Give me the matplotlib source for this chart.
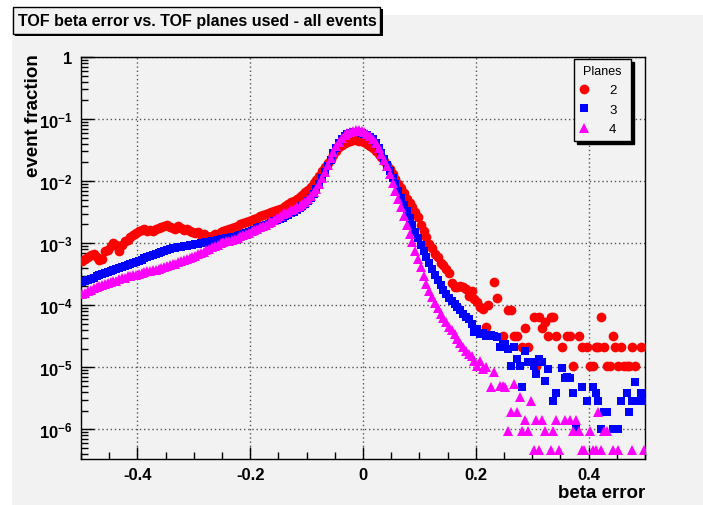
import numpy as np
import matplotlib
matplotlib.use("Agg")
import matplotlib.pyplot as plt
from matplotlib import font_manager
from matplotlib.patches import Rectangle
from matplotlib.ticker import FixedLocator, LogLocator, MultipleLocator, NullFormatter, FixedFormatter

plt.rcParams['font.family'] = ['Liberation Sans', 'DejaVu Sans']
plt.rcParams['mathtext.fontset'] = 'custom'
plt.rcParams['mathtext.rm'] = 'Liberation Sans'
plt.rcParams['mathtext.bf'] = 'Liberation Sans:bold'
plt.rcParams['mathtext.it'] = 'Liberation Sans:italic'

nan = float('nan')

# 200 bins over the beta error range
bin_lo, bin_hi, n_bins = -0.5, 0.5, 200

# log10(event fraction) per bin, nan = empty bin
planes2_log = [
    -3.29, -3.26, -3.23, -3.19, -3.18, -3.23, -3.27, -3.26, -3.13, -3.11,
    -3.05, -3.00, -3.03, -3.13, -3.03, -2.97, -2.95, -2.90, -2.87, -2.84,
    -2.81, -2.79, -2.77, -2.81, -2.79, -2.81, -2.77, -2.76, -2.74, -2.73,
    -2.71, -2.74, -2.76, -2.77, -2.73, -2.76, -2.79, -2.77, -2.81, -2.82,
    -2.84, -2.82, -2.87, -2.85, -2.89, -2.90, -2.89, -2.85, -2.87, -2.82,
    -2.81, -2.79, -2.77, -2.76, -2.74, -2.73, -2.69, -2.68, -2.66, -2.65,
    -2.63, -2.61, -2.60, -2.56, -2.55, -2.53, -2.52, -2.50, -2.48, -2.47,
    -2.45, -2.44, -2.40, -2.37, -2.34, -2.32, -2.29, -2.26, -2.23, -2.18,
    -2.15, -2.10, -2.03, -1.98, -1.92, -1.84, -1.77, -1.71, -1.65, -1.58,
    -1.52, -1.45, -1.42, -1.39, -1.37, -1.35, -1.34, -1.34, -1.35, -1.35,
    -1.37, -1.40, -1.44, -1.47, -1.52, -1.56, -1.61, -1.68, -1.74, -1.81,
    -1.89, -1.97, -2.05, -2.11, -2.19, -2.29, -2.35, -2.42, -2.50, -2.58,
    -2.71, -2.81, -2.90, -3.02, -3.08, -3.18, -3.23, -3.32, -3.35, -3.42,
    -3.48, -3.65, -3.71, -3.71, -3.69, -3.71, -3.74, -3.85, -3.77, -3.90,
    -3.95, -4.03, -4.06, -4.35, -4.00, nan, -3.63, -3.89, nan, -4.50,
    nan, -4.08, -4.08, -4.50, -4.50, nan, -4.68, -4.37, -4.68, nan,
    -4.19, -4.98, -4.19, -4.37, -4.27, -4.50, -4.19, -4.19, -4.50, nan,
    -4.68, nan, -4.50, -4.50, -4.98, nan, -4.50, -4.68, nan, -4.68,
    -4.98, -4.98, -4.68, -4.68, -4.19, -4.68, -4.98, -4.98, -4.50, -4.68,
    -4.98, -4.68, -4.98, -4.98, -4.98, -4.68, -4.98, nan, -4.68, nan,
]

planes3_log = [
    -3.63, -3.61, -3.60, -3.58, -3.56, -3.53, -3.52, -3.50, -3.48, -3.47,
    -3.45, -3.44, -3.42, -3.40, -3.39, -3.37, -3.35, -3.34, -3.32, -3.31,
    -3.29, -3.27, -3.24, -3.23, -3.21, -3.19, -3.18, -3.16, -3.15, -3.13,
    -3.11, -3.10, -3.08, -3.08, -3.06, -3.06, -3.05, -3.05, -3.03, -3.03,
    -3.02, -3.02, -3.00, -3.00, -2.98, -2.98, -2.97, -2.97, -2.95, -2.94,
    -2.94, -2.92, -2.92, -2.90, -2.90, -2.89, -2.87, -2.85, -2.84, -2.82,
    -2.81, -2.79, -2.76, -2.74, -2.73, -2.71, -2.69, -2.68, -2.65, -2.63,
    -2.61, -2.60, -2.56, -2.55, -2.52, -2.50, -2.47, -2.44, -2.40, -2.37,
    -2.32, -2.27, -2.21, -2.13, -2.05, -1.95, -1.85, -1.76, -1.66, -1.55,
    -1.47, -1.39, -1.32, -1.27, -1.24, -1.23, -1.21, -1.21, -1.21, -1.23,
    -1.24, -1.26, -1.29, -1.32, -1.39, -1.47, -1.55, -1.65, -1.74, -1.84,
    -1.95, -2.05, -2.16, -2.27, -2.39, -2.48, -2.60, -2.71, -2.82, -2.92,
    -3.03, -3.13, -3.23, -3.32, -3.42, -3.52, -3.60, -3.68, -3.76, -3.82,
    -3.89, -3.94, -3.98, -4.03, -4.08, -4.15, -4.19, -4.23, -4.31, -4.44,
    -4.39, -4.47, -4.45, -4.50, -4.50, -4.48, -4.50, -4.52, -4.68, -4.65,
    -4.63, -4.71, -4.98, -4.68, -4.87, -4.98, -5.32, -4.74, -4.92, -4.92,
    -4.98, -5.11, -4.87, -4.92, -5.23, -5.03, nan, -5.55, -5.42, nan,
    -5.02, -5.18, -5.16, -5.18, -5.42, -6.00, nan, -5.32, nan, -5.55,
    nan, -5.32, -5.42, -5.55, -6.00, -5.73, -5.73, nan, -6.00, nan,
    -6.00, -5.55, nan, -5.42, -5.73, -5.55, -5.24, -5.55, -5.42, -5.55,
]

planes4_log = [
    -3.82, -3.81, -3.77, -3.76, -3.73, -3.71, -3.69, -3.68, -3.66, -3.65,
    -3.63, -3.61, -3.61, -3.58, -3.56, -3.56, -3.53, -3.53, -3.52, -3.52,
    -3.50, -3.48, -3.47, -3.45, -3.45, -3.44, -3.44, -3.42, -3.40, -3.39,
    -3.37, -3.35, -3.34, -3.34, -3.31, -3.29, -3.27, -3.26, -3.24, -3.23,
    -3.21, -3.18, -3.16, -3.15, -3.11, -3.10, -3.06, -3.05, -3.03, -3.00,
    -2.98, -2.97, -2.97, -2.95, -2.94, -2.92, -2.89, -2.87, -2.85, -2.84,
    -2.81, -2.79, -2.77, -2.74, -2.73, -2.71, -2.68, -2.66, -2.63, -2.60,
    -2.56, -2.53, -2.52, -2.50, -2.47, -2.45, -2.42, -2.40, -2.37, -2.34,
    -2.29, -2.24, -2.18, -2.13, -2.05, -1.95, -1.85, -1.74, -1.63, -1.53,
    -1.44, -1.37, -1.31, -1.26, -1.23, -1.21, -1.19, -1.18, -1.18, -1.19,
    -1.21, -1.24, -1.27, -1.32, -1.39, -1.47, -1.56, -1.66, -1.76, -1.89,
    -2.03, -2.16, -2.29, -2.42, -2.56, -2.71, -2.85, -2.98, -3.13, -3.26,
    -3.39, -3.53, -3.66, -3.77, -3.87, -3.97, -4.05, -4.15, -4.21, -4.27,
    -4.35, -4.40, -4.47, -4.55, -4.61, -4.68, -4.74, -4.79, -4.82, -4.90,
    -4.98, -4.90, -5.03, -5.00, nan, -5.32, -5.08, nan, -5.31, -5.31,
    -5.32, -6.03, -5.73, -5.27, -5.73, -5.48, -6.03, -5.85, -6.03, -5.55,
    -6.34, -5.85, -6.34, -5.85, -6.03, nan, -6.34, -6.03, -5.85, -6.34,
    nan, -5.85, nan, -5.85, -6.03, -5.85, -6.03, -6.34, -6.34, nan,
    -6.03, -6.34, -6.34, -5.73, -6.34, -6.03, -6.03, nan, -6.34, nan,
    -6.34, nan, nan, nan, nan, -6.34, nan, nan, nan, -6.34,
]

series_labels = ['2', '3', '4']
series_colors = ['#ff0000', '#0000ff', '#ff00ff']
series_markers = ['o', 's', '^']
series_sizes = [7.0, 6.2, 7.4]

xticks = [-0.4, -0.2, 0, 0.2, 0.4]
ydecades = [0, -1, -2, -3, -4, -5, -6]

W, H = 703, 506
bg = '#f2f2f2'

edges = np.linspace(bin_lo, bin_hi, n_bins + 1)
centers = 0.5 * (edges[:-1] + edges[1:])

fig = plt.figure(figsize=(W / 100, H / 100), dpi=100, facecolor='white')

def fx(px):
    return px / W

def fy(py):
    return 1 - py / H

# grey canvas
fig.patches.append(Rectangle((fx(12), 0), 1 - fx(12), fy(16), transform=fig.transFigure,
                             facecolor=bg, edgecolor='none', zorder=-5))

ax = fig.add_axes([fx(81), fy(460), fx(645) - fx(81), fy(58) - fy(460)])
ax.set_facecolor(bg)

for vals, lab, col, mk, ms, z in zip([planes2_log, planes3_log, planes4_log], series_labels,
                                     series_colors, series_markers, series_sizes, [3, 4, 5]):
    y = 10 ** np.array(vals, dtype=float)
    ax.plot(centers, y, linestyle='none', marker=mk, ms=ms, color=col, mec=col, mew=0,
            label=lab, zorder=z)

ax.set_yscale('log')
ax.set_xlim(bin_lo, bin_hi)
ax.set_ylim(10 ** -6.48, 1)

ax.xaxis.set_major_locator(FixedLocator(xticks))
ax.xaxis.set_major_formatter(FixedFormatter([('%g' % v) for v in xticks]))
ax.xaxis.set_minor_locator(MultipleLocator(0.05))
ax.yaxis.set_major_locator(FixedLocator([10.0 ** d for d in ydecades]))
ax.yaxis.set_major_formatter(FixedFormatter(
    ['1' if d == 0 else r'$\mathbf{10^{%d}}$' % d for d in ydecades]))
ax.yaxis.set_minor_locator(LogLocator(base=10, subs=np.arange(2, 10), numticks=20))
ax.yaxis.set_minor_formatter(NullFormatter())

ax.tick_params(which='both', direction='in', top=False, right=False, width=1)
ax.tick_params(which='major', length=9, labelsize=12, pad=6)
ax.tick_params(which='minor', length=5)
for lab in ax.get_xticklabels() + ax.get_yticklabels():
    lab.set_fontweight('bold')

ax.grid(True, which='major', color='#555555', linestyle=(0, (1, 2)), linewidth=1)
ax.set_axisbelow(True)
for sp in ax.spines.values():
    sp.set_linewidth(1)

fig.text(fx(33), fy(54), 'event fraction', rotation=90, ha='center', va='top',
         fontsize=13.5, fontweight='bold')
fig.text(fx(645), fy(494), 'beta error', ha='right', va='center',
         fontsize=13.5, fontweight='bold')

# title box with shadow
installed = {f.name for f in font_manager.fontManager.ttflist}
if 'Liberation Sans Narrow' in installed:
    title_font, title_size = 'Liberation Sans Narrow', 13.5
else:
    title_font, title_size = 'Liberation Sans', 11.5

fig.patches.append(Rectangle((fx(15), fy(37)), fx(381) - fx(13), fy(8) - fy(35),
                             transform=fig.transFigure, facecolor='black', edgecolor='none', zorder=5))
fig.patches.append(Rectangle((fx(13), fy(35)), fx(380) - fx(13), fy(8) - fy(35),
                             transform=fig.transFigure, facecolor=bg, edgecolor='black',
                             linewidth=1, zorder=6))
fig.text(fx(197), fy(21.5), 'TOF beta error vs. TOF planes used - all events', ha='center',
         va='center', fontsize=title_size, fontweight='bold', family=[title_font, 'DejaVu Sans'],
         zorder=7)

leg = ax.legend(title='Planes', loc='upper left',
                bbox_to_anchor=(fx(574), fy(65), fx(631) - fx(574), 0.01),
                bbox_transform=fig.transFigure, mode='expand', numpoints=1,
                fancybox=False, shadow={'color': 'black', 'alpha': 1}, framealpha=1,
                facecolor=bg, edgecolor='black', fontsize=9.5, title_fontsize=9,
                handlelength=0.6, handletextpad=1.6, borderpad=0.45, labelspacing=0.55,
                borderaxespad=0)
leg.get_frame().set_linewidth(1)
leg.set_zorder(10)

fig.savefig('out.png', dpi=100, facecolor=fig.get_facecolor())
